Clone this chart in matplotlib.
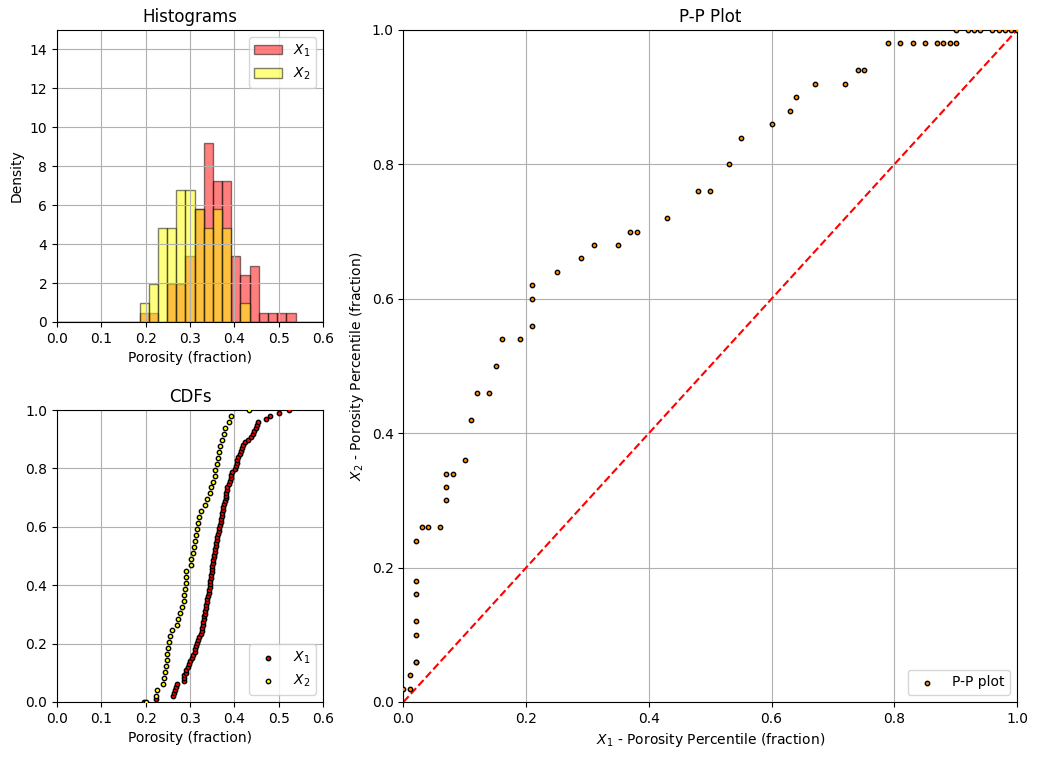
import matplotlib
matplotlib.use("Agg")
import matplotlib.pyplot as plt
import numpy as np

# 試料値（読み取り、昇順）
X1 = [0.196, 0.224, 0.2607, 0.2637, 0.266, 0.268, 0.2697, 0.2855, 0.2862, 0.287,
      0.290, 0.2907, 0.2945, 0.2967, 0.2997, 0.3035, 0.3057, 0.311, 0.3117, 0.314,
      0.3147, 0.3185, 0.3214, 0.3244, 0.326, 0.328, 0.3297, 0.3304, 0.3308, 0.332,
      0.3334, 0.334, 0.335, 0.3357, 0.338, 0.3394, 0.341, 0.3424, 0.3432, 0.3447,
      0.3455, 0.346, 0.347, 0.3484, 0.3488, 0.349, 0.3507, 0.3514, 0.3522, 0.3537,
      0.3544, 0.356, 0.3567, 0.358, 0.359, 0.3604, 0.362, 0.3634, 0.365, 0.3664,
      0.368, 0.3694, 0.371, 0.3726, 0.373, 0.3747, 0.3754, 0.377, 0.3784, 0.3807,
      0.3814, 0.3822, 0.383, 0.3844, 0.389, 0.3904, 0.392, 0.3927, 0.394, 0.402,
      0.404, 0.405, 0.406, 0.409, 0.412, 0.414, 0.417, 0.420, 0.425, 0.431,
      0.437, 0.442, 0.445, 0.448, 0.451, 0.454, 0.472, 0.481, 0.501, 0.523]

X2 = [0.200, 0.223, 0.226, 0.238, 0.2405, 0.2435, 0.245, 0.247, 0.249, 0.251,
      0.253, 0.255, 0.260, 0.270, 0.274, 0.278, 0.282, 0.286, 0.287, 0.288,
      0.290, 0.291, 0.292, 0.302, 0.303, 0.306, 0.308, 0.311, 0.313, 0.315,
      0.317, 0.320, 0.325, 0.333, 0.339, 0.345, 0.348, 0.351, 0.356, 0.357,
      0.360, 0.363, 0.365, 0.367, 0.373, 0.376, 0.378, 0.389, 0.392, 0.432]

# P-P プロットの点（読み取り）
pp_x1 = [0.00, 0.01, 0.01, 0.02, 0.02, 0.02, 0.02, 0.02, 0.02, 0.02,
         0.03, 0.04, 0.06, 0.07, 0.07, 0.07, 0.08, 0.10, 0.11, 0.12,
         0.14, 0.15, 0.16, 0.19, 0.21, 0.21, 0.21, 0.25, 0.29, 0.31,
         0.35, 0.37, 0.38, 0.43, 0.48, 0.50, 0.53, 0.55, 0.60, 0.63,
         0.64, 0.67, 0.72, 0.74, 0.75, 0.79, 0.81, 0.83, 0.85, 0.87,
         0.88, 0.89, 0.90, 0.90, 0.92, 0.93, 0.94, 0.96, 0.97, 0.98,
         0.99, 1.00]
pp_x2 = [0.02, 0.02, 0.04, 0.06, 0.06, 0.10, 0.12, 0.16, 0.18, 0.24,
         0.26, 0.26, 0.26, 0.30, 0.32, 0.34, 0.34, 0.36, 0.42, 0.46,
         0.46, 0.50, 0.54, 0.54, 0.56, 0.60, 0.62, 0.64, 0.66, 0.68,
         0.68, 0.70, 0.70, 0.72, 0.76, 0.76, 0.80, 0.84, 0.86, 0.88,
         0.90, 0.92, 0.92, 0.94, 0.94, 0.98, 0.98, 0.98, 0.98, 0.98,
         0.98, 0.98, 0.98, 1.00, 1.00, 1.00, 1.00, 1.00, 1.00, 1.00,
         1.00, 1.00]

bins = np.linspace(0.0, 0.6, 30)

fig = plt.figure(figsize=(10.38, 7.59), dpi=100)
ax_hist = fig.add_axes([0.0549, 0.5758, 0.2563, 0.3847])
ax_cdf = fig.add_axes([0.0549, 0.0751, 0.2563, 0.3847])
ax_pp = fig.add_axes([0.3887, 0.0751, 0.5911, 0.8854])

# ヒストグラム
ax_hist.hist(X1, bins=bins, density=True, color="red", alpha=0.5,
             edgecolor="black", label="$X_1$")
ax_hist.hist(X2, bins=bins, density=True, color="yellow", alpha=0.5,
             edgecolor="black", label="$X_2$")
ax_hist.set_xlim(0.0, 0.6)
ax_hist.set_ylim(0, 15)
ax_hist.set_title("Histograms")
ax_hist.set_xlabel("Porosity (fraction)")
ax_hist.set_ylabel("Density")
ax_hist.grid(True)
ax_hist.legend(loc="upper right")

# CDF（順位から累積確率）
cdf1 = np.arange(len(X1)) / (len(X1) - 1)
cdf2 = np.arange(len(X2)) / (len(X2) - 1)
ax_cdf.scatter(X1, cdf1, s=10, color="red", edgecolor="black", zorder=3,
               label="$X_1$")
ax_cdf.scatter(X2, cdf2, s=10, color="yellow", edgecolor="black", zorder=3,
               label="$X_2$")
ax_cdf.set_xlim(0.0, 0.6)
ax_cdf.set_ylim(0.0, 1.0)
ax_cdf.set_title("CDFs")
ax_cdf.set_xlabel("Porosity (fraction)")
ax_cdf.grid(True)
ax_cdf.legend(loc="lower right")

# P-P プロット
ax_pp.scatter(pp_x1, pp_x2, s=10, color="darkorange", edgecolor="black",
              zorder=3, label="P-P plot")
ax_pp.plot([0, 1], [0, 1], color="red", linestyle="--")
ax_pp.set_xlim(0.0, 1.0)
ax_pp.set_ylim(0.0, 1.0)
ax_pp.set_title("P-P Plot")
ax_pp.set_xlabel("$X_1$ - Porosity Percentile (fraction)")
ax_pp.set_ylabel("$X_2$ - Porosity Percentile (fraction)")
ax_pp.grid(True)
ax_pp.legend(loc="lower right")

fig.savefig("out.png", dpi=100)
plt.close(fig)
